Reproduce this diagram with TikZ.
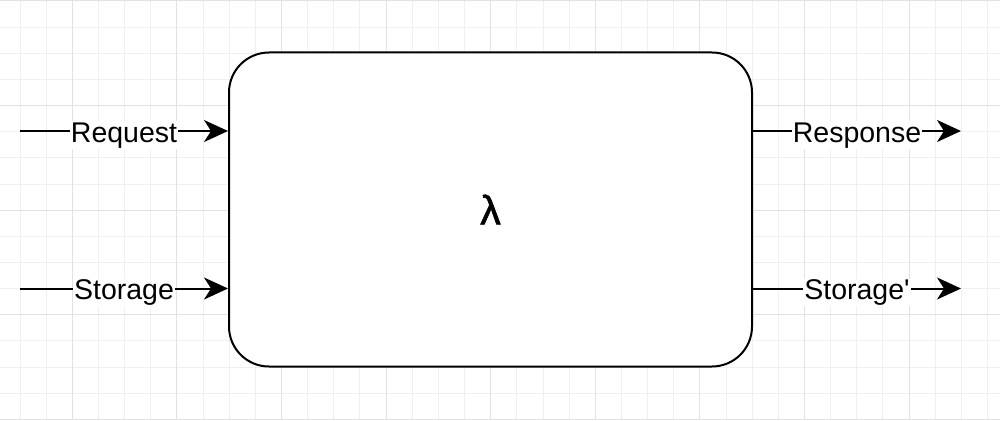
\documentclass[tikz,border=0pt]{standalone}
\usepackage{fontspec}
\setmainfont{Liberation Sans}
\newfontfamily\lamfont[FakeBold=1.5]{Liberation Sans}
\usetikzlibrary{arrows.meta}
\definecolor{gridminor}{HTML}{F0F0F0}
\definecolor{gridmajor}{HTML}{E2E2E2}
\tikzset{
  gminor/.style={draw=gridminor, line width=1pt},
  gmajor/.style={draw=gridmajor, line width=1pt},
  lambdabox/.style={draw=black, line width=2pt, rounded corners=40pt, fill=white,
    minimum width=523pt, minimum height=314pt, inner sep=0pt,
    font=\lamfont\fontsize{41}{44}\selectfont},
  arr/.style={line width=2pt, -{Stealth[length=24pt, width=22pt, inset=7pt]}},
  lbl/.style={midway, fill=white, anchor=base, yshift=-11pt, inner xsep=1pt, inner ysep=1pt,
    font=\fontsize{28.5}{32}\selectfont}
}
\begin{document}
\begin{tikzpicture}[x=1pt, y=-1pt]
\useasboundingbox (0,0) rectangle (1000,420);
\fill[white] (0,0) rectangle (1000,420);
% grid
\foreach \i in {-2,...,35} \draw[gminor] ({72.3+26.15*\i},0) -- ({72.3+26.15*\i},420);
\foreach \j in {0,...,16} \draw[gminor] (0,{1+26.15*\j}) -- (1000,{1+26.15*\j});
\foreach \i in {0,4,...,32} \draw[gmajor] ({72.3+26.15*\i},0) -- ({72.3+26.15*\i},420);
\foreach \j in {0,4,...,16} \draw[gmajor] (0,{1+26.15*\j}) -- (1000,{1+26.15*\j});
% box
\node[lambdabox] (lam) at (490.5,209.5) {λ};
% connector ends
\coordinate (rqs) at (20,131);
\coordinate (sts) at (20,288.5);
\coordinate (rse) at (961,131);
\coordinate (ste) at (961,288.5);
\draw[arr] (rqs) -- (rqs -| lam.west) node[lbl] {Request};
\draw[arr] (sts) -- (sts -| lam.west) node[lbl] {Storage};
\draw[arr] (lam.east |- rse) -- (rse) node[lbl] {Response};
\draw[arr] (lam.east |- ste) -- (ste) node[lbl] {Storage\textquotesingle};
\end{tikzpicture}
\end{document}
